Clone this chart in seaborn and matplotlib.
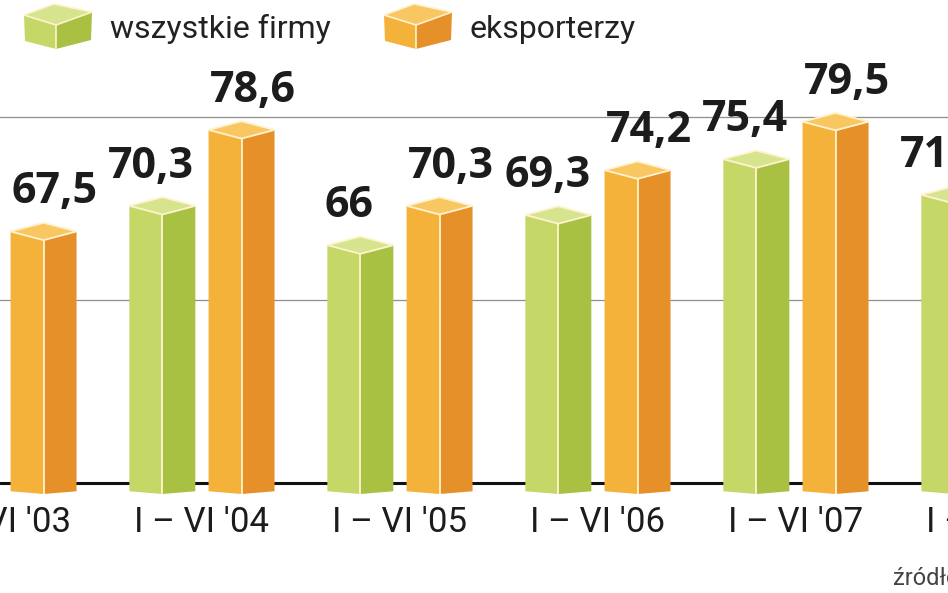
import numpy as np
import pandas as pd
import matplotlib.pyplot as plt
from matplotlib.patches import Polygon
import seaborn as sns

# Data (values outside the visible crop left empty)
okresy = ["I – VI '03", "I – VI '04", "I – VI '05", "I – VI '06", "I – VI '07", "I – VI '08"]
wszystkie_firmy = [np.nan, 70.3, 66.0, 69.3, 75.4, 71.5]
eksporterzy = [67.5, 78.6, 70.3, 74.2, 79.5, np.nan]
serie = ['wszystkie firmy', 'eksporterzy']

# face colours: (left face, right face, top)
kolory = {
    'wszystkie firmy': ('#c5d767', '#a9c142', '#d6e48e'),
    'eksporterzy': ('#f4b23a', '#e6902a', '#f8c762'),
}
linia = '#fff3cf'

df = pd.DataFrame({
    'okres': okresy * 2,
    'wartosc': wszystkie_firmy + eksporterzy,
    'seria': [serie[0]] * len(okresy) + [serie[1]] * len(okresy),
})

sns.set_style('white')
plt.rcParams['font.family'] = ['Roboto', 'DejaVu Sans']

fig = plt.figure(figsize=(9.48, 5.93), dpi=100)
ax = fig.add_axes([0, 0, 1, 1])

sns.barplot(data=df, x='okres', y='wartosc', hue='seria', order=okresy, hue_order=serie,
            palette=[kolory[s][0] for s in serie], width=0.8, gap=0.167,
            errorbar=None, legend=False, ax=ax)

baza = 40
d = 0.95  # depth of the 3D cap in data units


def slupek(ax, x0, w, v, cols):
    xm = x0 + w / 2
    x1 = x0 + w
    b = baza - 0.9
    lewa = [(x0, b), (xm, b - 0.3), (xm, v - d), (x0, v)]
    prawa = [(xm, b - 0.3), (x1, b), (x1, v), (xm, v - d)]
    gora = [(x0, v), (xm, v - d), (x1, v), (xm, v + d)]
    ax.add_patch(Polygon(lewa, closed=True, fc=cols[0], ec='none', zorder=3))
    ax.add_patch(Polygon(prawa, closed=True, fc=cols[1], ec='none', zorder=3))
    ax.add_patch(Polygon(gora, closed=True, fc=cols[2], ec=linia, lw=1.3, zorder=4))
    ax.plot([xm, xm], [b - 0.3, v - d], color=linia, lw=1.3, zorder=4, solid_capstyle='butt')


przesuniecie = {'wszystkie firmy': -11, 'eksporterzy': 11}
for seria, kont in zip(serie, ax.containers):
    for p in kont.patches:
        v = p.get_height()
        p.set_visible(False)
        if np.isnan(v):
            continue
        slupek(ax, p.get_x(), p.get_width(), v, kolory[seria])
        tekst = f"{v:g}".replace('.', ',')
        ax.annotate(tekst, (p.get_x() + p.get_width() / 2, v),
                    xytext=(przesuniecie[seria], 28), textcoords='offset pixels',
                    ha='center', va='baseline', fontsize=31, fontweight='bold',
                    family=['Open Sans', 'DejaVu Sans'],
                    color='#1c1c1c', zorder=6, annotation_clip=False)

# grid and baseline
for g in [60, 80]:
    ax.axhline(g, color='#8f8f8f', lw=0.9, zorder=1)
ax.axhline(baza, color='#111111', lw=2.2, zorder=2)

# category labels
for i, lab in enumerate(okresy):
    ax.text(i, 34.6, lab, ha='center', va='baseline', fontsize=25, color='#1c1c1c')

ax.set_xlim(-0.02, 4.768)
ax.set_ylim(27.98, 92.8)
ax.set_xlabel('')
ax.set_ylabel('')
ax.set_xticks([])
ax.set_yticks([])
for s in ax.spines.values():
    s.set_visible(False)

# legend with cube icons (pixel coordinates)
leg = fig.add_axes([0, 0, 1, 1], zorder=5)
leg.set_xlim(0, 948)
leg.set_ylim(593, 0)
leg.axis('off')
leg.patch.set_alpha(0)

for x0, seria, x_txt in [(24, 'wszystkie firmy', 110), (384, 'eksporterzy', 470)]:
    c = kolory[seria]
    L, B, R, F = (x0, 15), (x0 + 30, 4), (x0 + 68, 12), (x0 + 32, 25)
    Lb, Fb, Rb = (x0 + 1, 41), (x0 + 32, 49), (x0 + 67, 40)
    leg.add_patch(Polygon([L, F, Fb, Lb], fc=c[0], ec='none'))
    leg.add_patch(Polygon([F, R, Rb, Fb], fc=c[1], ec='none'))
    leg.add_patch(Polygon([L, B, R, F], fc=c[2], ec=linia, lw=1.2))
    leg.plot([F[0], Fb[0]], [F[1], Fb[1]], color=linia, lw=1.2)
    leg.text(x_txt, 38, seria, ha='left', va='baseline', fontsize=23, color='#222222')

leg.text(893, 585, 'źródło: GUS', ha='left', va='baseline', fontsize=17, color='#444444')

fig.savefig('out.png', dpi=100)
